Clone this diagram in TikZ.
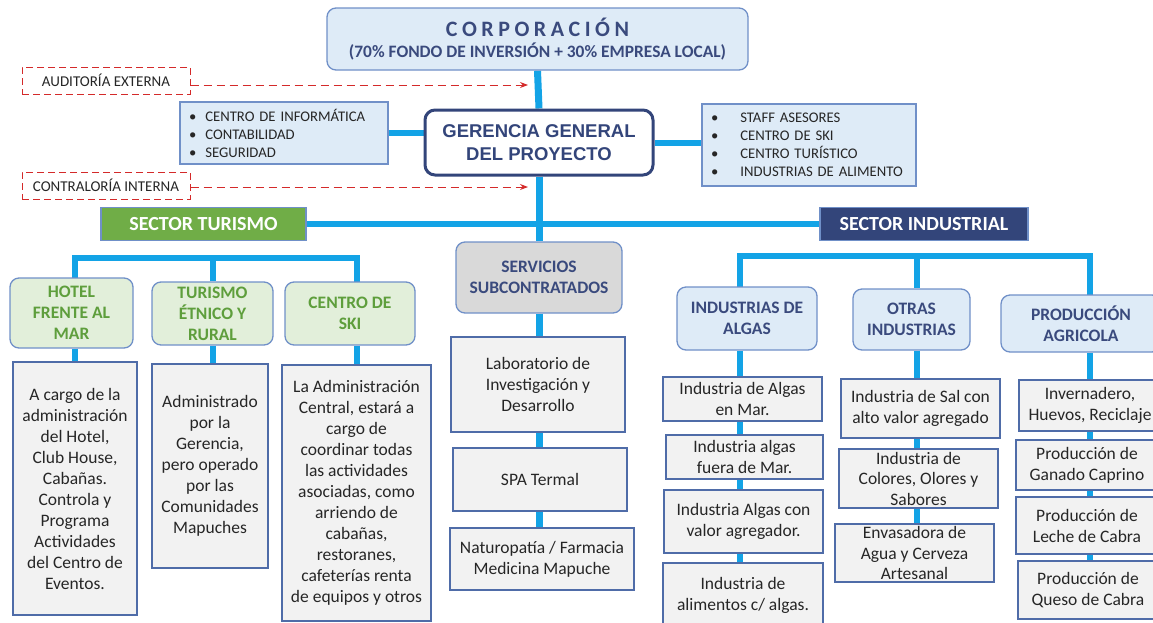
\documentclass[tikz,border=0pt]{standalone}
\usepackage{fontspec}
\setmainfont{Carlito}
\newfontfamily\arialf{Liberation Sans}
\usetikzlibrary{arrows.meta,backgrounds}
\definecolor{lineblue}{HTML}{13A3E6}
\definecolor{lbfill}{HTML}{DEEBF7}
\definecolor{lbdraw}{HTML}{7090C8}
\definecolor{navy}{HTML}{33457A}
\definecolor{navytxt}{HTML}{3A4A7D}
\definecolor{grayfill}{HTML}{F2F2F2}
\definecolor{graydraw}{HTML}{4F6CA8}
\definecolor{greenfill}{HTML}{E2EFDA}
\definecolor{greentxt}{HTML}{5E9E3C}
\definecolor{sectgreen}{HTML}{70AD47}
\definecolor{servfill}{HTML}{D9D9D9}
\definecolor{reddash}{HTML}{D42A2A}
\definecolor{bodytxt}{HTML}{262626}
\newcommand{\ls}{\hspace{4.5pt}}
\tikzset{
  wh/.style 2 args={minimum width=#1pt, minimum height=#2pt},
  basebox/.style={inner sep=0pt, align=center, text=bodytxt},
  lbbox/.style={basebox, draw=lbdraw, fill=lbfill, line width=1.3pt, rounded corners=9pt, text=navytxt,
     font=\fontsize{17.5}{21}\selectfont\bfseries},
  listbox/.style={basebox, draw=lbdraw, fill=lbfill, line width=1.3pt, align=left,
     font=\fontsize{14.7}{18}\selectfont},
  gbox/.style={basebox, draw=graydraw, fill=grayfill, line width=1.3pt,
     font=\fontsize{17.5}{21}\selectfont},
  grbox/.style={basebox, draw=lbdraw, fill=greenfill, line width=1.3pt, rounded corners=9pt, text=greentxt,
     font=\fontsize{17.5}{21}\selectfont\bfseries},
  redbox/.style={basebox, draw=reddash, dash pattern=on 7pt off 4pt, line width=1pt, font=\fontsize{15}{18}\selectfont},
  redarrow/.style={draw=reddash, dash pattern=on 8pt off 5pt, line width=1pt, -{Stealth[length=8pt,width=6pt]}},
  sectbox/.style={basebox, text=white, line width=1.2pt, font=\fontsize{20}{22}\selectfont\bfseries},
  conn/.style={draw=lineblue, line width=6pt},
  trunk/.style={draw=lineblue, line width=7pt},
}
\begin{document}
\begin{tikzpicture}[x=1pt,y=-1pt]
\useasboundingbox (0,0) rectangle (1153,622);
\clip (0,0) rectangle (1153,622);

% top
\node[lbbox, wh={421}{62}, font=\bfseries] (corp) at (537.5,39)
  {{\fontsize{22}{22}\selectfont C\ls O\ls R\ls P\ls O\ls R\ls A\ls C\ls I\ls Ó\ls N}\\[5pt]{\fontsize{17.4}{20}\selectfont (70\% FONDO DE INVERSIÓN + 30\% EMPRESA LOCAL)}};
\node[basebox, wh={228}{65}, draw=navy, line width=3pt, rounded corners=10pt, fill=white, text=navy,
  font=\arialf\fontsize{18.5}{23.5}\selectfont\bfseries] (ger) at (539,142.5) {GERENCIA GENERAL\\DEL PROYECTO};
\node[listbox, wh={208}{62}, text width=190pt] (info) at (284,133)
  {\textbullet\hspace{9pt}CENTRO DE INFORMÁTICA\\\textbullet\hspace{9pt}CONTABILIDAD\\\textbullet\hspace{9pt}SEGURIDAD};
\node[listbox, wh={214}{82}, text width=196pt] (staff) at (809,145)
  {\textbullet\hspace{22pt}STAFF ASESORES\\\textbullet\hspace{22pt}CENTRO DE SKI\\\textbullet\hspace{22pt}CENTRO TURÍSTICO\\\textbullet\hspace{22pt}INDUSTRIAS DE ALIMENTO};
\node[redbox, wh={168}{27}] (aud) at (106,80.5) {AUDITORÍA EXTERNA};
\node[redbox, wh={168}{27}] (con) at (106,185.5) {CONTRALORÍA INTERNA};
\coordinate (audend) at (528,85);
\coordinate (conend) at (528,187);

\node[sectbox, wh={205}{33}, fill=sectgreen, draw=lbdraw] (st) at (203.5,224) {SECTOR TURISMO};
\node[sectbox, wh={208}{33}, fill=navy, draw=lbdraw] (si) at (924,224) {SECTOR INDUSTRIAL};

% turismo
\node[grbox, wh={123}{70}] (hotel) at (71.5,313) {HOTEL\\FRENTE AL\\MAR};
\node[grbox, wh={121}{63}] (tur) at (212.5,313.5) {TURISMO\\ÉTNICO Y\\RURAL};
\node[grbox, wh={130}{63}] (ski) at (350,313.5) {CENTRO DE\\SKI};
\node[gbox, wh={124}{253}] (hoteld) at (75,488.5)
  {A cargo de la\\administración\\del Hotel,\\Club House,\\Cabañas.\\Controla y\\Programa\\Actividades\\del Centro de\\Eventos.};
\node[gbox, wh={116}{204}] (turd) at (210,466)
  {Administrado\\por la\\Gerencia,\\pero operado\\por las\\Comunidades\\Mapuches};
\node[gbox, wh={149}{256}] (skid) at (356.5,493)
  {La Administración\\Central, estará a\\cargo de\\coordinar todas\\las actividades\\asociadas, como\\arriendo de\\cabañas,\\restoranes,\\cafeterías renta\\de equipos y otros};

% servicios
\node[lbbox, wh={166}{71}, fill=servfill] (serv) at (539,277.5) {SERVICIOS\\SUBCONTRATADOS};
\node[gbox, wh={174}{95}] (lab) at (538,384.5) {Laboratorio de\\Investigación y\\Desarrollo};
\node[gbox, wh={174}{63}] (spa) at (540,479.5) {SPA Termal};
\node[gbox, wh={184}{62}] (nat) at (542,559) {Naturopatía / Farmacia\\Medicina Mapuche};

% industrial
\node[lbbox, wh={140}{63}] (alg) at (747,318.5) {INDUSTRIAS DE\\ALGAS};
\node[gbox, wh={159}{44}] (a1) at (742.5,399) {Industria de Algas\\en Mar.};
\node[gbox, wh={157}{44}] (a2) at (744.5,457) {Industria algas\\fuera de Mar.};
\node[gbox, wh={159}{63}] (a3) at (743.5,521.5) {Industria Algas con\\valor agregador.};
\node[gbox, wh={160}{64}] (a4) at (743,595) {Industria de\\alimentos c/ algas.};

\node[lbbox, wh={117}{61}] (otr) at (911.5,319.5) {OTRAS\\INDUSTRIAS};
\node[gbox, wh={159}{59}] (o1) at (920.5,408.5) {Industria de Sal con\\alto valor agregado};
\node[gbox, wh={159}{59}, font=\fontsize{17.5}{20.5}\selectfont] (o2) at (918.5,478.5) {Industria de\\Colores, Olores y\\Sabores};
\node[gbox, wh={159}{58}, font=\fontsize{17.5}{20.5}\selectfont] (o3) at (914.5,553) {Envasadora de\\Agua y Cerveza\\Artesanal};

\node[lbbox, wh={160}{57}] (prod) at (1081,323.5) {PRODUCCIÓN\\AGRICOLA};
\node[gbox, wh={142}{51}] (p1) at (1090,405.5) {Invernadero,\\Huevos, Reciclaje};
\node[gbox, wh={142}{50}] (p2) at (1087,465) {Producción de\\Ganado Caprino};
\node[gbox, wh={142}{57}] (p3) at (1087,525.5) {Producción de\\Leche de Cabra};
\node[gbox, wh={140}{58}] (p4) at (1088,590) {Producción de\\Queso de Cabra};

% dashed arrows
\draw[redarrow] (aud.east |- audend) -- (audend);
\draw[redarrow] (con.east |- conend) -- (conend);

\begin{pgfonlayer}{background}
  \draw[trunk] (corp.south) -- (ger.north);
  \draw[trunk] (ger.south) -- (serv.north);
  \draw[trunk] (serv.south) -- (lab.north -| serv.south);
  \draw[trunk] (lab.south -| serv.south) -- (spa.north -| serv.south);
  \draw[trunk] (spa.south -| serv.south) -- (nat.north -| serv.south);
  \draw[conn] (info.east) -- (info.east -| ger.west);
  \draw[conn] (ger.east) -- (ger.east -| staff.west);
  \draw[conn] (st.east) -- (si.west);
  % turismo bus
  \coordinate (tb) at (0,258);
  \draw[conn, line cap=rect] (hotel.north -| hoteld.north) -- (hoteld.north |- tb) -- (skid.north |- tb) -- (ski.north -| skid.north);
  \draw[conn] (tur.north) -- (tur.north |- tb);
  \draw[conn] (hotel.south -| hoteld.north) -- (hoteld.north);
  \draw[conn] (tur.south) -- (tur.south |- turd.north);
  \draw[conn] (ski.south -| skid.north) -- (skid.north);
  % industrial bus
  \coordinate (ib) at (0,256);
  \coordinate (xa) at (740,0);
  \coordinate (xo) at (917,0);
  \coordinate (xp) at (1090,0);
  \draw[conn, line cap=rect] (alg.north -| xa) -- (xa |- ib) -- (xp |- ib) -- (prod.north -| xp);
  \draw[conn] (xo |- ib) -- (otr.north -| xo);
  \draw[conn] (alg.south -| xa) -- (a1.north -| xa);
  \draw[conn] (a1.south -| xa) -- (a2.north -| xa);
  \draw[conn] (a2.south -| xa) -- (a3.north -| xa);
  \draw[conn] (a3.south -| xa) -- (a4.north -| xa);
  \draw[conn] (otr.south -| xo) -- (o1.north -| xo);
  \draw[conn] (o1.south -| xo) -- (o2.north -| xo);
  \draw[conn] (o2.south -| xo) -- (o3.north -| xo);
  \draw[conn] (prod.south -| xp) -- (p1.north -| xp);
  \draw[conn] (p1.south -| xp) -- (p2.north -| xp);
  \draw[conn] (p2.south -| xp) -- (p3.north -| xp);
  \draw[conn] (p3.south -| xp) -- (p4.north -| xp);
\end{pgfonlayer}
\end{tikzpicture}
\end{document}
